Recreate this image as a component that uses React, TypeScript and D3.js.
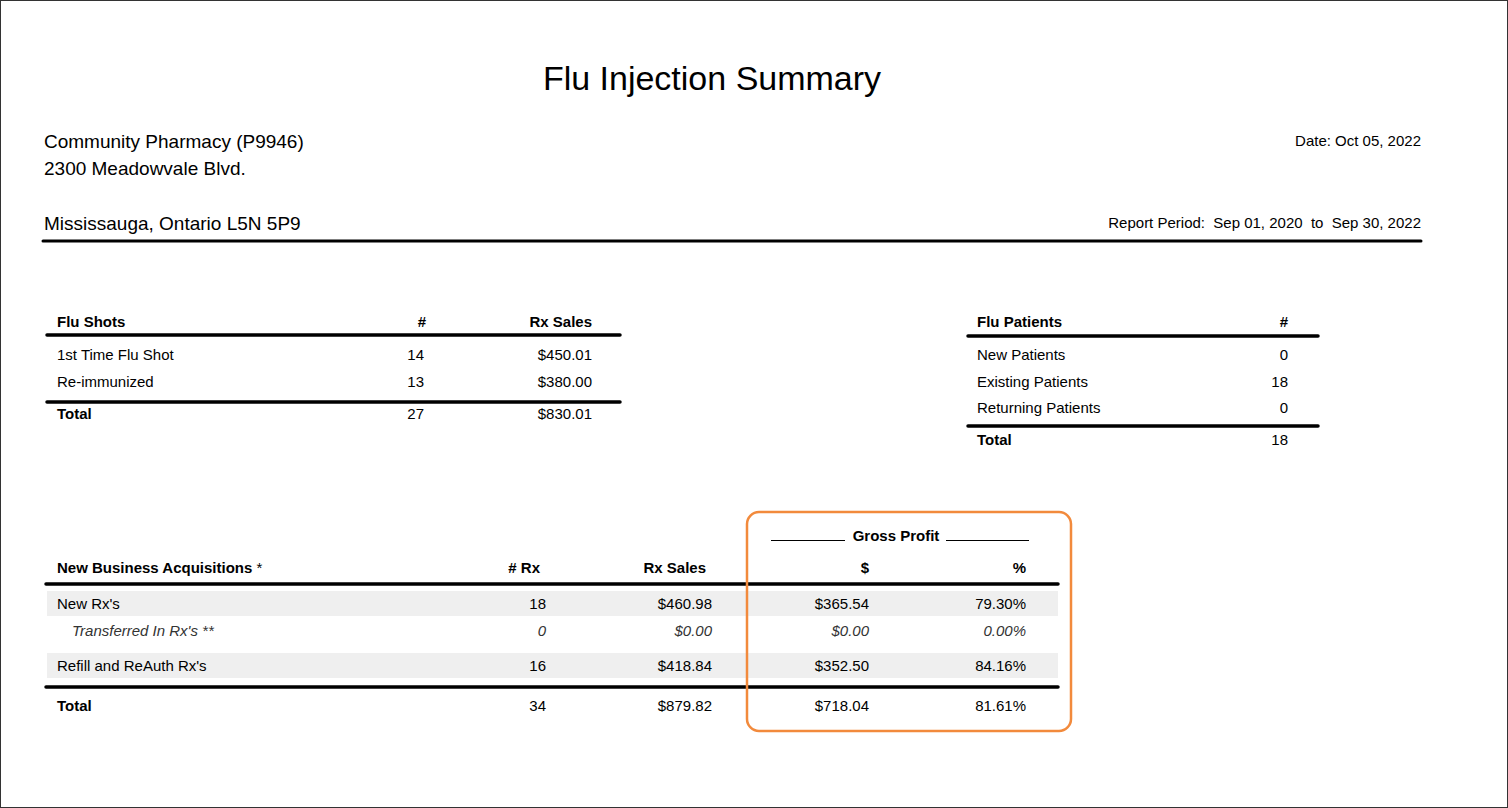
import React from "react";
import * as d3 from "d3";

const W = 1508;
const H = 808;

const title = "Flu Injection Summary";
const pharmacyLines = ["Community Pharmacy (P9946)", "2300 Meadowvale Blvd."];
const cityLine = "Mississauga, Ontario L5N 5P9";
const reportDate = "Date: Oct 05, 2022";
const reportPeriod = "Report Period:\u00a0\u00a0Sep 01, 2020\u00a0\u00a0to\u00a0\u00a0Sep 30, 2022";

// Flu Shots table
const shotHeaders = ["Flu Shots", "#", "Rx Sales"];
const shotLabels = ["1st Time Flu Shot", "Re-immunized"];
const shotCounts = [14, 13];
const shotSales = ["$450.01", "$380.00"];
const shotTotal = ["Total", "27", "$830.01"];

// Flu Patients table
const patientHeaders = ["Flu Patients", "#"];
const patientLabels = ["New Patients", "Existing Patients", "Returning Patients"];
const patientCounts = [0, 18, 0];
const patientTotal = ["Total", "18"];

// New Business Acquisitions
const nbaHeaders = ["New Business Acquisitions", "# Rx", "Rx Sales", "$", "%"];
const nbaLabels = ["New Rx's", "Transferred In Rx's **", "Refill and ReAuth Rx's"];
const nbaRx = ["18", "0", "16"];
const nbaSales = ["$460.98", "$0.00", "$418.84"];
const nbaProfit = ["$365.54", "$0.00", "$352.50"];
const nbaPct = ["79.30%", "0.00%", "84.16%"];
const nbaShaded = [true, false, true];
const nbaItalic = [false, true, false];
const nbaTotal = ["Total", "34", "$879.82", "$718.04", "81.61%"];

const FONT = "'Liberation Sans', Arial, sans-serif";

export default function App() {
  // row positions (baselines)
  const shotY = d3.scaleLinear().domain([0, 1]).range([360, 387]);
  const patY = d3.scaleLinear().domain([0, 2]).range([360, 413]);
  const nbaY = d3.scaleOrdinal<number, number>().domain([0, 1, 2]).range([609, 636, 671]);

  // column anchors
  const shotCols = [57, 426, 592];
  const patCols = [977, 1288];
  const nbaCols = [57, 546, 712, 869, 1026];
  const nbaHeadCols = [57, 540, 706, 869, 1026];

  const txt = (x: number, y: number, s: string | number, opts: any = {}) => (
    <text
      x={x}
      y={y}
      fontSize={opts.size ?? 15}
      fontWeight={opts.bold ? "bold" : "normal"}
      fontStyle={opts.italic ? "italic" : "normal"}
      textAnchor={opts.anchor ?? "start"}
      fill={opts.fill ?? "#000"}
    >
      {s}
    </text>
  );

  const rule = (x1: number, x2: number, y: number, w = 3.5) => (
    <line x1={x1} x2={x2} y1={y} y2={y} stroke="#000" strokeWidth={w} strokeLinecap="round" />
  );

  return (
    <div style={{ position: "absolute", left: 0, top: 0 }}>
      <svg width={W} height={H} fontFamily={FONT} style={{ display: "block" }}>
        <rect x={0.5} y={0.5} width={W - 1} height={H - 1} fill="#fff" stroke="#333" />

        {txt(712, 90, title, { size: 34, anchor: "middle" })}
        {pharmacyLines.map((l, i) => (
          <React.Fragment key={l}>{txt(44, 148 + i * 27, l, { size: 19 })}</React.Fragment>
        ))}
        {txt(44, 230, cityLine, { size: 19 })}
        {txt(1421, 146, reportDate, { anchor: "end" })}
        {txt(1421, 228, reportPeriod, { anchor: "end" })}
        {rule(43, 1421, 241, 3)}

        {/* Flu Shots */}
        {txt(shotCols[0], 327, shotHeaders[0], { bold: true })}
        {txt(shotCols[1], 327, shotHeaders[1], { bold: true, anchor: "end" })}
        {txt(shotCols[2], 327, shotHeaders[2], { bold: true, anchor: "end" })}
        {rule(47, 620, 335)}
        {shotLabels.map((l, i) => (
          <g key={l}>
            {txt(shotCols[0], shotY(i), l)}
            {txt(shotCols[1] - 2, shotY(i), shotCounts[i], { anchor: "end" })}
            {txt(shotCols[2], shotY(i), shotSales[i], { anchor: "end" })}
          </g>
        ))}
        {rule(47, 620, 402)}
        {txt(shotCols[0], 419, shotTotal[0], { bold: true })}
        {txt(shotCols[1] - 2, 419, shotTotal[1], { anchor: "end" })}
        {txt(shotCols[2], 419, shotTotal[2], { anchor: "end" })}

        {/* Flu Patients */}
        {txt(patCols[0], 327, patientHeaders[0], { bold: true })}
        {txt(patCols[1], 327, patientHeaders[1], { bold: true, anchor: "end" })}
        {rule(968, 1318, 336)}
        {patientLabels.map((l, i) => (
          <g key={l}>
            {txt(patCols[0], patY(i), l)}
            {txt(patCols[1], patY(i), patientCounts[i], { anchor: "end" })}
          </g>
        ))}
        {rule(968, 1318, 426)}
        {txt(patCols[0], 445, patientTotal[0], { bold: true })}
        {txt(patCols[1], 445, patientTotal[1], { anchor: "end" })}

        {/* New Business Acquisitions */}
        <line x1={771} x2={845} y1={540.5} y2={540.5} stroke="#000" strokeWidth={1} />
        <line x1={946} x2={1029} y1={540.5} y2={540.5} stroke="#000" strokeWidth={1} />
        {txt(896, 541, "Gross Profit", { bold: true, anchor: "middle" })}
        <text x={nbaHeadCols[0]} y={573} fontSize={15} fontWeight="bold">
          {nbaHeaders[0]}
          <tspan fontWeight="normal"> *</tspan>
        </text>
        {nbaHeaders.slice(1).map((h, i) => (
          <React.Fragment key={h}>{txt(nbaHeadCols[i + 1], 573, h, { bold: true, anchor: "end" })}</React.Fragment>
        ))}
        {rule(46, 1058, 584)}
        {nbaLabels.map((l, i) => {
          const y = nbaY(i);
          const it = nbaItalic[i];
          const fill = it ? "#333" : "#000";
          return (
            <g key={l}>
              {nbaShaded[i] && <rect x={47} y={y - 18} width={1011} height={25} fill="#efefef" />}
              {txt(it ? 72 : nbaCols[0], y, l, { italic: it, fill })}
              {txt(nbaCols[1], y, nbaRx[i], { anchor: "end", italic: it, fill })}
              {txt(nbaCols[2], y, nbaSales[i], { anchor: "end", italic: it, fill })}
              {txt(nbaCols[3], y, nbaProfit[i], { anchor: "end", italic: it, fill })}
              {txt(nbaCols[4], y, nbaPct[i], { anchor: "end", italic: it, fill })}
            </g>
          );
        })}
        {rule(46, 1058, 687)}
        {nbaTotal.map((t, i) => (
          <React.Fragment key={i}>
            {txt(nbaCols[i], 711, t, { bold: i === 0, anchor: i === 0 ? "start" : "end" })}
          </React.Fragment>
        ))}

        <rect x={747} y={512} width={324} height={219} rx={12} fill="none" stroke="#f28a3c" strokeWidth={2.5} />
      </svg>
    </div>
  );
}
